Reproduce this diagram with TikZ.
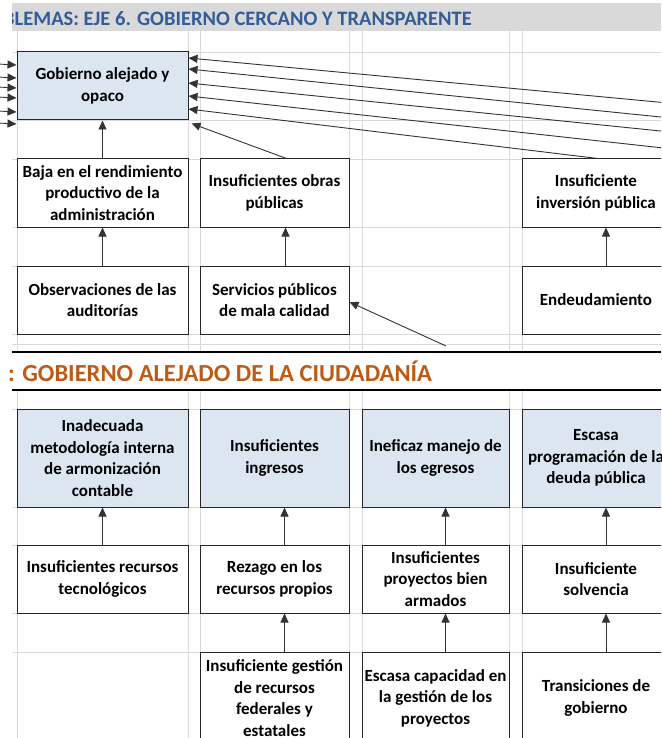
\documentclass[tikz,border=0pt]{standalone}
\usepackage{fontspec}
\setmainfont{Carlito}
\usetikzlibrary{arrows.meta}

\definecolor{azulcaja}{HTML}{DCE6F1}
\definecolor{azultit}{HTML}{335C99}
\definecolor{naranja}{HTML}{BF5A14}
\definecolor{rejilla}{HTML}{D9D9D9}
\definecolor{banda}{HTML}{D9D9D9}

\begin{document}
\begin{tikzpicture}[x=1pt,y=-1pt,
	every node/.style={font=\fontsize{17}{21.5}\selectfont\bfseries, align=center, inner sep=0pt},
	caja/.style={draw=black!85, line width=1pt, fill=white, minimum height=68pt},
	azul/.style={caja, fill=azulcaja},
	flecha/.style={draw=black!80, line width=0.9pt, -{Triangle[length=9pt,width=8pt]}}]
	\useasboundingbox (0,0) rectangle (661,738);
	\clip (0,0) rectangle (661,738);

	% rejilla de la hoja
	\foreach \x in {17,188,200,349,362,509,522} {
		\draw[rejilla, line width=0.8pt] (\x,30) -- (\x,352);
		\draw[rejilla, line width=0.8pt] (\x,390) -- (\x,738);
	}
	\foreach \y in {30,52,120,159,227,266,334,344,409,507,545,613,652}
		\draw[rejilla, line width=0.8pt] (12,\y) -- (661,\y);

	% encabezado
	\begin{scope}
		\clip (12,3) rectangle (661,30);
		\fill[banda] (12,3) rectangle (661,30);
		\node[anchor=base west, text=azultit, font=\fontsize{20.5}{24}\selectfont\bfseries] (eje) at (3,25.5) {BLEMAS: EJE 6. GOBIERNO CERCANO Y TRANSPARENTE};
	\end{scope}

	% arbol superior
	\node[azul, minimum width=171pt] (gob) at (102.5,86) {Gobierno alejado y\\opaco};
	\node[caja, minimum width=171pt] (baja) at (102.5,193) {Baja en el rendimiento\\productivo de la\\administración};
	\node[caja, minimum width=149pt] (obras) at (274.5,193) {Insuficientes obras\\públicas};
	\node[caja, minimum width=148pt] (inv) at (596,193) {Insuficiente\\inversión pública};
	\node[caja, minimum width=171pt] (obs) at (102.5,300) {Observaciones de las\\auditorías};
	\node[caja, minimum width=149pt] (serv) at (274.5,300) {Servicios públicos\\de mala calidad};
	\node[caja, minimum width=148pt] (endeu) at (596,300) {Endeudamiento};

	\draw[flecha] (baja) -- (gob);
	\draw[flecha] (obs) -- (baja);
	\draw[flecha] ([xshift=11pt]serv.north) -- ([xshift=11pt]obras.south);
	\draw[flecha] ([xshift=12pt]obras.north) -- ([xshift=3pt,yshift=-3pt]gob.south east);
	\draw[flecha] ([xshift=10pt]endeu.north) -- ([xshift=10pt]inv.south);
	\draw[flecha] ([xshift=2pt]inv.north) -- ([yshift=-23pt]gob.east);
	\foreach \i/\ya/\yb in {1/106/28, 2/121/17, 3/135/3, 4/152/-10} {
		\coordinate (der\i) at (700,\ya);
		\draw[flecha] (der\i) -- ([yshift=\yb pt]gob.east);
	}
	\foreach \i/\ya/\yb in {1/62/21, 2/75/8, 3/85/-2, 4/95/-12, 5/109/-26, 6/121/-38} {
		\coordinate (izq\i) at (-40,\ya);
		\draw[flecha] (izq\i) -- ([yshift=\yb pt]gob.west);
	}
	\coordinate (serv0) at (446,346);
	\draw[flecha] (serv0) -- ([yshift=-2pt]serv.east);

	% separador
	\draw[line width=2.5pt] (12,352) -- (661,352);
	\draw[line width=2.5pt] (12,390) -- (661,390);
	\node[anchor=base west, text=naranja, font=\fontsize{24.5}{28}\selectfont\bfseries] (causa) at (8,381) {: GOBIERNO ALEJADO DE LA CIUDADANÍA};

	% arbol inferior
	\node[azul, minimum width=171pt, minimum height=98pt] (metod) at (102.5,458) {Inadecuada\\metodología interna\\de armonización\\contable};
	\node[azul, minimum width=149pt, minimum height=98pt] (ingr) at (274.5,458) {Insuficientes\\ingresos};
	\node[azul, minimum width=147pt, minimum height=98pt] (egr) at (435.5,458) {Ineficaz manejo de\\los egresos};
	\node[azul, minimum width=148pt, minimum height=98pt] (deuda) at (596,458) {Escasa\\programación de la\\deuda pública};
	\node[caja, minimum width=171pt] (tecno) at (102.5,579) {Insuficientes recursos\\tecnológicos};
	\node[caja, minimum width=149pt] (rezago) at (274.5,579) {Rezago en los\\recursos propios};
	\node[caja, minimum width=147pt] (proy) at (435.5,579) {Insuficientes\\proyectos bien\\armados};
	\node[caja, minimum width=148pt] (solv) at (596,579) {Insuficiente\\solvencia};
	\node[caja, minimum width=149pt, minimum height=92pt] (gest) at (274.5,698) {Insuficiente gestión\\de recursos\\federales y\\estatales};
	\node[caja, minimum width=147pt, minimum height=92pt] (capac) at (435.5,698) {Escasa capacidad en\\la gestión de los\\proyectos};
	\node[caja, minimum width=148pt, minimum height=92pt] (trans) at (596,698) {Transiciones de\\gobierno};

	\draw[flecha] (tecno) -- (metod);
	\foreach \a/\b in {rezago/ingr, proy/egr, solv/deuda, gest/rezago, capac/proy, trans/solv}
		\draw[flecha] ([xshift=10pt]\a.north) -- ([xshift=10pt]\b.south);

\end{tikzpicture}
\end{document}
